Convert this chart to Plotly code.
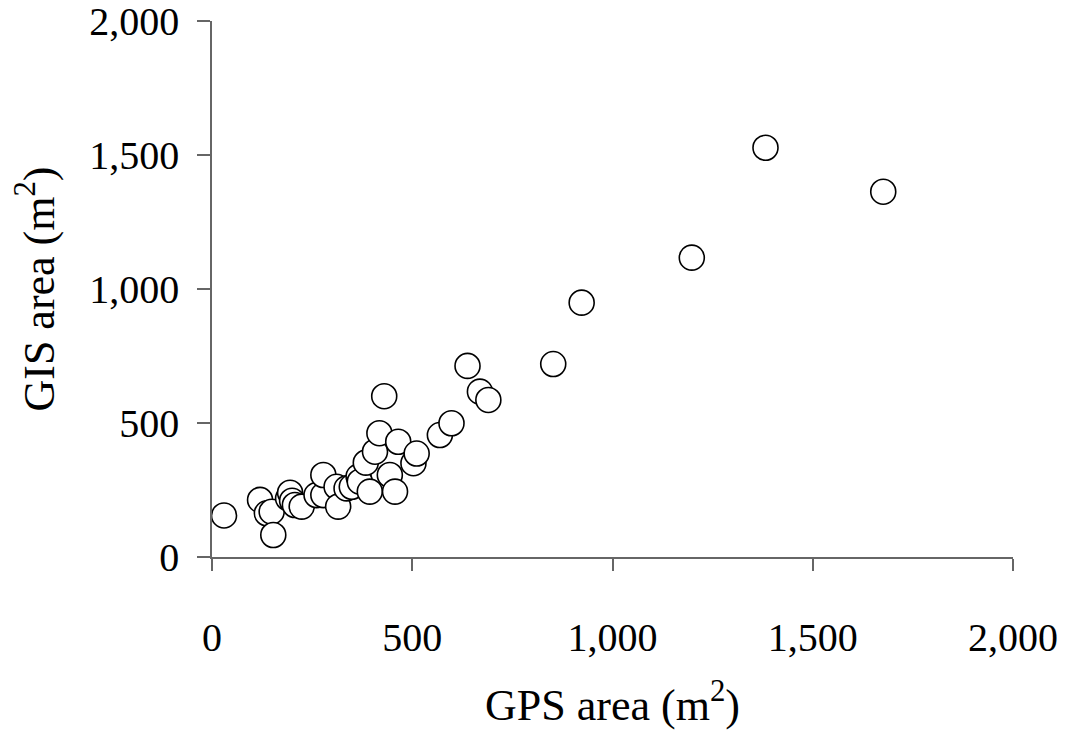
import plotly.graph_objects as go

gps_area = [30, 120, 137, 149, 153, 190, 195, 200, 207, 224, 261, 278, 278, 311, 315,
            336, 349, 366, 369, 384, 394, 407, 418, 430, 444, 457, 465, 503, 511,
            569, 598, 638, 669, 690, 852, 923, 1198, 1382, 1676]
gis_area = [155, 213, 163, 169, 82, 219, 240, 210, 194, 188, 231, 231, 306, 262, 188,
            256, 262, 300, 281, 352, 244, 393, 462, 600, 306, 244, 430, 350, 386,
            455, 499, 713, 617, 586, 720, 949, 1117, 1527, 1363]

x_ticks = [0, 500, 1000, 1500, 2000]
x_tick_labels = ["0", "500", "1,000", "1,500", "2,000"]
y_ticks = [0, 500, 1000, 1500, 2000]
y_tick_labels = ["0", "500", "1,000", "1,500", "2,000"]

font_family = "Liberation Serif, Times New Roman, serif"

fig = go.Figure()
fig.add_trace(go.Scatter(
    x=gps_area, y=gis_area, mode="markers",
    marker=dict(size=25, color="white", line=dict(color="black", width=1.6)),
    cliponaxis=False, showlegend=False,
))

fig.update_layout(
    width=1066, height=734,
    margin=dict(l=212, r=53, t=21, b=177, autoexpand=False),
    paper_bgcolor="white", plot_bgcolor="white",
    font=dict(family=font_family, size=40, color="black"),
)
fig.update_xaxes(
    range=[0, 2000], tickvals=x_ticks, ticktext=x_tick_labels,
    showgrid=False, zeroline=False, showline=True, linecolor="#666", linewidth=1.5,
    ticks="outside", ticklen=12, tickcolor="#666", tickwidth=1.5,
    ticklabelstandoff=32, automargin=False, ticklabeloverflow="allow",
    tickfont=dict(family=font_family, size=40),
    title=dict(text="GPS area (m<sup>2</sup>)", font=dict(family=font_family, size=44), standoff=30),
)
fig.update_yaxes(
    range=[0, 2000], tickvals=y_ticks, ticktext=y_tick_labels,
    showgrid=False, zeroline=False, showline=True, linecolor="#666", linewidth=1.5,
    ticks="outside", ticklen=13, tickcolor="#666", tickwidth=1.5,
    ticklabelstandoff=10, automargin=False, ticklabeloverflow="allow",
    tickfont=dict(family=font_family, size=40),
    title=dict(text="GIS area (m<sup>2</sup>)", font=dict(family=font_family, size=44), standoff=21),
)

fig.write_html("out.html", config={"displayModeBar": False},
               post_script="document.body.style.margin='0';")
